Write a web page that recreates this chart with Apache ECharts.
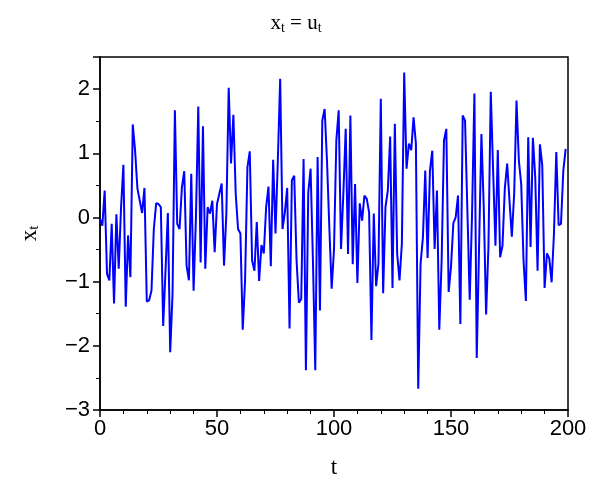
<!DOCTYPE html>
<html>
<head>
<meta charset="UTF-8">
<style>
  * { margin: 0; padding: 0; }
  #main { width: 592px; height: 488px; }
</style>
<script src="https://cdn.jsdelivr.net/npm/echarts@6/dist/echarts.min.js"></script>
</head>
<body>
<div id="main"></div>
<script>
// white noise series x_t = u_t
var values = [
  -0.02, -0.13, 0.42, -0.88, -0.98, -0.1, -1.34, 0.05, -0.8, 0.16,
  0.82, -1.39, -0.28, -0.93, 1.45, 1.04, 0.45, 0.26, 0.07, 0.46,
  -1.31, -1.29, -1.14, -0.18, 0.22, 0.21, 0.16, -1.69, -0.83, 0.07,
  -2.1, -1.19, 1.67, -0.1, -0.18, 0.47, 0.72, -0.75, -0.98, 0.68,
  -1.14, 0.0, 1.73, -0.7, 1.42, -0.8, 0.16, 0.06, 0.26, -0.54,
  0.21, 0.37,
  0.53, -0.75, 0.06, 2.02, 0.84, 1.6, 0.37, -0.18, -0.25, -1.75,
  -0.98, 0.78, 1.03, -0.67, -0.83, -0.07, -0.99, -0.43, -0.56, 0.16,
  0.48, -0.76, 0.9, -0.25, 0.89, 2.16, -0.18, 0.08, 0.46, -1.73,
  0.58, 0.65, -0.67, -1.33, -1.27, 0.91, -2.38, 0.39, 0.76, -0.67,
  -2.38, 0.94, -1.45, 1.51, 1.69, 0.89, -0.15, -1.11, -0.5,
  1.2, 1.67, -0.49, 0.37, 1.38, -0.57, 1.59, -0.73, 0.52, -1.02,
  0.22, -0.05, 0.34, 0.29, 0.08, -1.91, 0.06, -1.07, -0.72, 1.85,
  -1.18, 0.16, 0.42, 1.26, -1.1, 1.46, -0.57, -0.98, -0.41, 2.26,
  0.76, 1.15, 1.05, 1.56, 1.15, -2.67, -0.72, -0.31, 0.73, -0.63,
  0.73, 1.04, -0.49, 0.42, -1.75, -0.67, 1.2, 1.38, -1.16,
  -0.77, -0.09, 0.0, 0.34, -1.66, 1.59, 1.51, 0.11, -1.28, 0.06,
  1.93, -2.19, -0.46, 1.3, 0.16, -1.51, -0.46, 1.96, 0.73, -0.44,
  1.05, -0.62, -0.44, 0.45, 0.84, 0.26, -0.3, 0.37, 1.82, 0.89,
  0.52, -0.67, -1.3, 1.25, -0.46, 1.24, 0.63, -0.83, 1.14, 0.81,
  -1.1, -0.56, -0.64, -1.01, -0.25, 1.02, -0.12, -0.1, 0.73, 1.07
];
var xTicks = [0, 50, 100, 150, 200];
var yTicks = [-3, -2, -1, 0, 1, 2];

var data = values.map(function (v, i) { return [i, v]; });
var fmt = function (v) { return String(v).replace('-', '\u2212'); };
var lbl = { color: '#000', fontSize: 22, fontFamily: 'Liberation Sans' };

var myChart = echarts.init(document.getElementById('main'));
myChart.setOption({
    animation: false,
    backgroundColor: '#fff',
    title: {
        text: '{b|x}{s|t}{b| = u}{s|t}',
        left: 'center',
        top: 6,
        textStyle: {
            fontWeight: 'normal',
            rich: {
                b: { fontFamily: 'Liberation Serif', fontSize: 21, fontWeight: 'normal', color: '#000' },
                s: { fontFamily: 'Liberation Serif', fontSize: 14, fontWeight: 'normal', color: '#000', padding: [10, 0, 0, 0] }
            }
        }
    },
    grid: { left: 100, right: 24, top: 57, bottom: 78, show: true, borderColor: '#000', borderWidth: 1.5 },
    xAxis: {
        type: 'value', min: xTicks[0], max: xTicks[xTicks.length - 1], interval: 50,
        name: 't', nameLocation: 'middle', nameGap: 46,
        nameTextStyle: { fontFamily: 'Liberation Serif', fontSize: 23, color: '#000' },
        axisLine: { onZero: false, lineStyle: { color: '#000', width: 1.5 } },
        axisTick: { length: 7, lineStyle: { color: '#000', width: 1.5 } },
        minorTick: { show: true, splitNumber: 5, length: 4, lineStyle: { color: '#000' } },
        splitLine: { show: false },
        axisLabel: Object.assign({ formatter: fmt, margin: 8 }, lbl)
    },
    yAxis: {
        type: 'value', min: yTicks[0], max: 2.5, interval: 1,
        name: '{b|x}{s|t}', nameLocation: 'middle', nameGap: 58, nameRotate: 90,
        nameTextStyle: {
            rich: {
                b: { fontFamily: 'Liberation Serif', fontSize: 23, color: '#000' },
                s: { fontFamily: 'Liberation Serif', fontSize: 15, color: '#000', padding: [10, 0, 0, 0] }
            }
        },
        axisLine: { onZero: false, lineStyle: { color: '#000', width: 1.5 } },
        axisTick: { length: 7, lineStyle: { color: '#000', width: 1.5 } },
        minorTick: { show: true, splitNumber: 2, length: 4, lineStyle: { color: '#000' } },
        splitLine: { show: false },
        axisLabel: Object.assign({ formatter: fmt, showMaxLabel: false, margin: 10 }, lbl)
    },
    series: [{
        type: 'line',
        data: data,
        showSymbol: false,
        lineStyle: { color: '#0000ff', width: 2 }
    }]
});
</script>
</body>
</html>
